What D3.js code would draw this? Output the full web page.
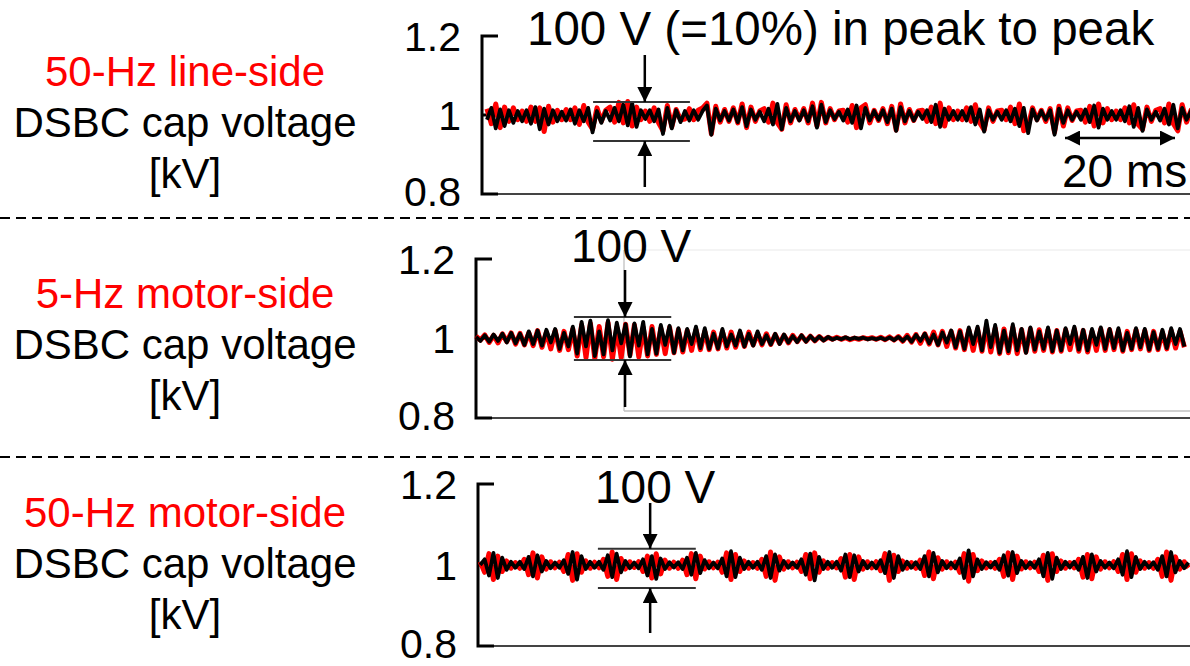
<!DOCTYPE html>
<meta charset="utf-8">
<head>
<style>
  body { margin: 0; background: #fff; }
  svg { font-family: 'Liberation Sans', Arial, sans-serif; display: block; }
  .sep { stroke: #000; stroke-width: 2px; stroke-dasharray: 10 6; }
  .yaxis { stroke: #000; stroke-width: 3px; fill: none; }
  .xaxis { stroke: #444; stroke-width: 2px; }
  .bracket { stroke: #333; stroke-width: 2px; }
  .arrow { stroke: #000; stroke-width: 2.5px; }
  .tick { font-size: 41px; fill: #000; }
  .ann { font-size: 46px; fill: #000; }
  .lab { font-size: 42px; text-anchor: middle; }
</style>
</head>
<body>
<svg width="1190" height="666"></svg>
<script src="https://cdnjs.cloudflare.com/ajax/libs/d3/7.8.5/d3.min.js"></script>
<script>
// sample spacing of the scope traces [ms]
var dt = 0.8;
var yTicks = [0.8, 1, 1.2];

// deviation from 1 kV, in volts
var lineBlack = [
  -12, 18, -34, 14, -28, 12, -20, 10, -16,
  12, -22, 20, -36, 16, -24, 12, -16, 8,
  -14, 14, -22, 12, -16, 18, -44, 10, -20,
  10, -14, 18, -16, 26, -26, 30, -30, 12,
  -10, 12, -16, 14, -48, 18, -34, 12, -18,
  10, -14, 12, -12, 10, 24, -50, 16, -14,
  10, -14, 14, -18, 20, -28, 14, -12, 8,
  -16, 16, -24, 28, -36, 18, -16, 10, -14,
  12, -16, 22, -32, 26, -18, 12, -10, 8,
  -14, 14, -20, 24, -34, 18, -14, 10, -12,
  12, -18, 16, -40, 20, -16, 10, -14, 8,
  -10, 12, -18, 26, -30, 16, -12, 10, -12,
  10, -14, 20, -24, 14, -42, 12, -12, 8,
  -12, 12, -16, 16, -28, 18, -46, 14, -14,
  10, -12, 12, -50, 16, -20, 12, -12, 8,
  -12, 14, -18, 24, -32, 16, -12, 10, -12,
  12, -16, 22, -30, 18, -40, 14, -12, 8,
  -14, 16, -24, 26, -34, 18, -12, 10, -10
];
var lineRed = [
  16, -22, 28, -32, 20, -16, 18, -12, 10,
  -16, 20, -16, 18, -42, 22, -18, 12, -12,
  14, -12, 18, -24, 24, -18, -36, 18, -16,
  12, 20, -18, 32, -20, 34, -28, 20, -12,
  10, -16, 18, -20, -40, 24, -30, 14, -12,
  -10, 16, -12, 12, 18, 30, -48, 22, -18,
  14, -16, 18, -20, 28, -32, 20, -16, 10,
  16, -18, 30, -20, -36, 26, -20, 14, -12,
  16, -20, 30, -28, 32, -20, 16, -12, 10,
  12, -18, 24, -32, 18, 26, -20, 12, -14,
  16, -22, 22, -38, 28, -20, 14, -14, 10,
  12, -16, 20, -22, 30, -28, 18, -12, 10,
  -12, 18, -16, 26, -20, -38, 18, -16, 10,
  12, -12, 20, -22, 28, -40, -28, 18, -12,
  12, -16, 16, -44, 22, -28, 18, -14, 10,
  12, -18, 22, -28, 28, -20, 16, -12, 10,
  -12, 18, -20, 26, -24, -36, 20, -16, 12,
  16, -20, 28, -22, -40, 26, -18, 12, -10
];

var motor5Black = [
  4, -6, 8, -8, 10, -6, 12, -10, 14, -12, 12, -16, 18, -14, 20,
  -18, 22, -10, 24, -26, 14, -20, 30,
  -38, 42, -20, 45, -44, 18, -40, 46, -30, 40, -12, 36, -45, 38, -18, 42, -40, 24, -38, 34, -16, 32, -36, 26, -30,
  24, -14, 30, -24, 26, -26, 12, -25, 24, -20, 10, -18, 20, -20, 12, -18, 18, -14, 8, -15, 12, -14, 10, -10, 6, -9, 8,
  -8, 6, -6, 5, -5, 4,
  -3, 2, -2, 3, -2, 2, -1, 2, -2, 1, -2, 2, -3, 3, -4, 4,
  -6, 5, -8, 9, -6, 12, -12, 10, -16, 15, -10, 20,
  -22, 18, -26, 28, -14, 30, -30, 45, -22, 34, -36, 20, -32, 36, -30, 24, -36, 28,
  -28, 18, -26, 28, -32, 20, -30, 26, -14, 30, -28, 22, -30, 24, -16, 28, -26, 24, -24, 26,
  -30, 14, -26, 26, -22, 24, -28, 16, -26, 22, -24, 26, -14, 24, -20
];
var motor5Red = [
  6, -4, 9, -10, 8, -11, 12, -8, 14, -14, 13, -16, 14, -18, 20,
  -22, 16, -26, 20, -30, 18, -28, 24,
  -44, 34, -48, 38, -50, 30, -46, 40, -52, 28, -48, 36, -42, 34, -46, 28, -44, 30, -40, 26, -38, 28, -36, 22, -34,
  20, -30, 22, -28, 18, -28, 16, -26, 18, -24, 16, -22, 14, -20, 16, -16, 12, -16, 12, -15, 10, -12, 8, -11, 8, -8, 7,
  -7, 6, -6, 5, -4, 3,
  -2, 3, -2, 2, -3, 1, -2, 2, -1, 2, -2, 3, -3, 4, -4, 5,
  -7, 8, -9, 10, -12, 12, -14, 16, -16, 18, -20, 18,
  -24, 20, -28, 22, -30, 24, -32, 30, -34, 26, -38, 24, -36, 28, -38, 22, -34, 24,
  -32, 22, -30, 22, -34, 20, -32, 22, -28, 24, -32, 20, -34, 18, -30, 24, -30, 22, -28, 20,
  -32, 18, -28, 22, -26, 20, -30, 18, -28, 16, -26, 20, -24, 18, -22
];

var motor50Black = [
  0, 14, -26, 30, -32, 18, -12, 8, -7,
  8, -10, 20, -28, 24, -16, 10, -8, 6,
  -7, 12, -22, 32, -36, 22, -10, 8, -7,
  8, -12, 24, -30, 28, -18, 10, -8, 6,
  -8, 14, -26, 22, -34, 16, -10, 7, -6,
  7, -10, 18, -24, 30, -20, 12, -8, 6,
  -8, 16, -28, 34, -30, 18, -10, 8, -7,
  8, -12, 22, -32, 26, -14, 10, -7, 6,
  -7, 14, -24, 28, -38, 20, -10, 8, -7,
  8, -14, 26, -30, 24, -16, 10, -8, 6,
  -8, 12, -20, 32, -32, 22, -12, 8, -7,
  7, -10, 22, -28, 30, -18, 10, -8, 6,
  -8, 16, -32, 36, -28, 14, -10, 7, -6,
  8, -12, 24, -26, 32, -20, 10, -8, 7,
  -7, 14, -28, 30, -34, 18, -10, 8, -6,
  8, -12, 20, -32, 26, -16, 10, -7, 6,
  -8, 14, -24, 34, -30, 20, -10, 8, -7,
  7, -12, 22, -28, 32, -18, 10, -8, 6
];
var motor50Red = [
  8, -18, 28, -36, 22, -16, 10, -8, 6,
  -8, 14, -24, 30, -32, 20, -10, 8, -7,
  7, -16, 26, -38, 28, -18, 10, -8, 7,
  -7, 14, -28, 32, -36, 16, -10, 8, -6,
  8, -16, 22, -32, 28, -22, 12, -8, 7,
  -8, 12, -24, 28, -34, 22, -10, 8, -7,
  7, -18, 30, -36, 26, -16, 10, -8, 6,
  -8, 14, -28, 32, -38, 20, -10, 8, -7,
  7, -16, 26, -34, 30, -18, 10, -8, 6,
  -7, 16, -30, 26, -36, 20, -10, 8, -7,
  8, -14, 28, -38, 24, -16, 10, -8, 6,
  -8, 12, -26, 32, -34, 18, -10, 8, -7,
  7, -18, 28, -40, 26, -14, 10, -7, 6,
  -8, 14, -28, 30, -36, 22, -10, 8, -7,
  7, -16, 24, -38, 28, -16, 10, -8, 6,
  -7, 14, -30, 26, -34, 20, -10, 8, -7,
  8, -16, 26, -36, 28, -18, 10, -8, 6,
  -8, 14, -28, 32, -38, 20, -10, 8, -7
];

// peak-to-peak markers [kV]
var ppLine = [1.033, 0.934];
var ppMotor5 = [1.054, 0.946];
var ppMotor50 = [1.040, 0.943];

var panels = [
  { title: "50-Hz line-side", black: lineBlack, red: lineRed, pp: ppLine,
    ax: 482, top: 36, bot: 194, t0: 0.9, span: [20.2, 37.8], arrowT: 29.6,
    labY: 86, upFrom: 55, downTo: 187, annX: 527, annY: 45, annSize: 47.5,
    ann: "100 V (=10%) in peak to peak" },
  { title: "5-Hz motor-side", black: motor5Black, red: motor5Red, pp: ppMotor5,
    ax: 476, top: 259, bot: 418, t0: 0, span: [17.8, 35.5], arrowT: 27.1,
    labY: 308, upFrom: 270, downTo: 407, annX: 571, annY: 262, annSize: 46,
    ann: "100 V" },
  { title: "50-Hz motor-side", black: motor50Black, red: motor50Red, pp: ppMotor50,
    ax: 478, top: 484, bot: 646, t0: 0.4, span: [21.8, 39.6], arrowT: 31.3,
    labY: 527, upFrom: 503, downTo: 633, annX: 595, annY: 503, annSize: 46,
    ann: "100 V" }
];

var svg = d3.select("svg");
var W = 1190;

var defs = svg.append("defs");
defs.append("marker")
    .attr("id", "head")
    .attr("viewBox", "0 0 10 10")
    .attr("refX", 10).attr("refY", 5)
    .attr("markerWidth", 6).attr("markerHeight", 6)
    .attr("markerUnits", "strokeWidth")
    .attr("orient", "auto-start-reverse")
  .append("path")
    .attr("d", "M0,0 L10,5 L0,10 Z")
    .attr("fill", "#000");

// dashed separators
[218, 457].forEach(function(y) {
  svg.append("line").attr("class", "sep")
    .attr("x1", 0).attr("x2", W).attr("y1", y).attr("y2", y);
});

// faint frame of the pasted scope shot in the middle panel
var fr = svg.append("g");
fr.append("line").attr("x1", 624).attr("x2", W).attr("y1", 250).attr("y2", 250)
  .attr("stroke", "#f0f0f0").attr("stroke-width", 1.5);
fr.append("line").attr("x1", 624).attr("x2", 624).attr("y1", 250).attr("y2", 411)
  .attr("stroke", "#c8c8c8").attr("stroke-width", 1.5);
fr.append("line").attr("x1", 624).attr("x2", W).attr("y1", 411).attr("y2", 411)
  .attr("stroke", "#c0c0c0").attr("stroke-width", 1.5);

panels.forEach(function(p) {
  var g = svg.append("g");

  var x = d3.scaleLinear().domain([0, 130]).range([p.ax, p.ax + 715]);
  var y = d3.scaleLinear().domain([0.8, 1.2]).range([p.bot, p.top]);

  // left label
  var lab = g.append("text").attr("class", "lab").attr("x", 185).attr("y", p.labY);
  lab.append("tspan").attr("x", 185).attr("fill", "#ff0000").text(p.title);
  lab.append("tspan").attr("x", 185).attr("dy", 51).attr("fill", "#000").text("DSBC cap voltage");
  lab.append("tspan").attr("x", 185).attr("dy", 51).attr("fill", "#000").text("[kV]");

  // x axis base line
  g.append("line").attr("class", "xaxis")
    .attr("x1", p.ax).attr("x2", W).attr("y1", y(0.8)).attr("y2", y(0.8));

  // y axis: bracket-style ticks
  g.append("path").attr("class", "yaxis")
    .attr("d", "M" + (p.ax + 16) + "," + y(1.2) + "H" + p.ax + "V" + y(0.8) + "H" + (p.ax + 16));
  g.append("line").attr("class", "yaxis")
    .attr("x1", p.ax).attr("x2", p.ax + 8).attr("y1", y(1)).attr("y2", y(1));

  g.selectAll(".tick").data(yTicks).enter().append("text")
    .attr("class", "tick")
    .attr("x", p.ax - 21)
    .attr("y", function(d) { return y(d); })
    .attr("dy", function(d) { return d === 0.8 ? "0.3em" : "0.36em"; })
    .attr("text-anchor", "end")
    .text(function(d) { return String(d); });

  // traces
  var line = d3.line()
    .x(function(d, i) { return x(p.t0 + i * dt); })
    .y(function(d) { return y(1 + d / 1000); });

  g.append("path").datum(p.red)
    .attr("d", line)
    .attr("fill", "none").attr("stroke", "#ff0000")
    .attr("stroke-width", 5).attr("stroke-linejoin", "round");
  g.append("path").datum(p.black)
    .attr("d", line)
    .attr("fill", "none").attr("stroke", "#000")
    .attr("stroke-width", 3.8).attr("stroke-linejoin", "round");

  // peak-to-peak marker
  g.selectAll(".bracket").data(p.pp).enter().append("line")
    .attr("class", "bracket")
    .attr("x1", x(p.span[0])).attr("x2", x(p.span[1]))
    .attr("y1", function(d) { return y(d); })
    .attr("y2", function(d) { return y(d); });

  var xa = x(p.arrowT);
  g.append("line").attr("class", "arrow")
    .attr("x1", xa).attr("x2", xa).attr("y1", p.upFrom).attr("y2", y(p.pp[0]))
    .attr("marker-end", "url(#head)");
  g.append("line").attr("class", "arrow")
    .attr("x1", xa).attr("x2", xa).attr("y1", p.downTo).attr("y2", y(p.pp[1]))
    .attr("marker-end", "url(#head)");

  g.append("text").attr("class", "ann")
    .style("font-size", p.annSize + "px")
    .attr("x", p.annX).attr("y", p.annY).text(p.ann);

  // period marker on the first panel
  if (p.title === "50-Hz line-side") {
    g.append("line").attr("class", "arrow")
      .attr("x1", x(106)).attr("x2", x(126)).attr("y1", 138).attr("y2", 138)
      .attr("marker-start", "url(#head)")
      .attr("marker-end", "url(#head)");
    g.append("text").attr("class", "ann")
      .attr("x", 1062).attr("y", 187).text("20 ms");
  }
});
</script>
</body>
